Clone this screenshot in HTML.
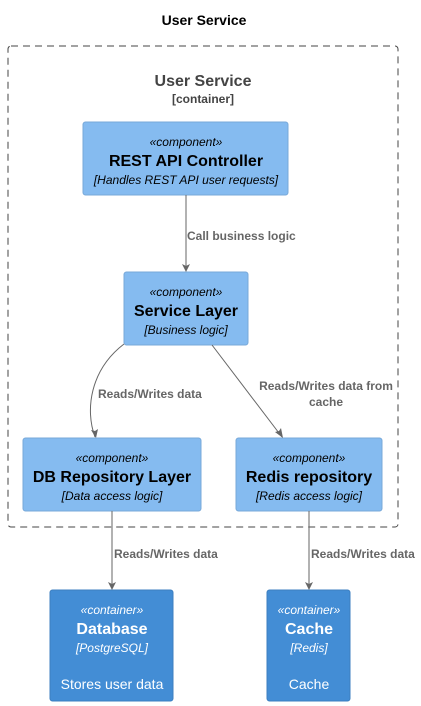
<!DOCTYPE html>
<html><head><meta charset="utf-8"><style>html,body{margin:0;padding:0;background:#fff}svg{display:block}</style></head>
<body>
<svg width="421" height="706" viewBox="0 0 421 706" xmlns="http://www.w3.org/2000/svg" font-family="Liberation Sans, Arial, sans-serif">
<text x="204" y="25" text-anchor="middle" font-size="14" font-weight="bold" fill="#000">User Service</text>
<rect x="8" y="46" width="390" height="481" rx="3" fill="none" stroke="#444" stroke-dasharray="7,5" stroke-width="1"/>
<text x="203" y="86" text-anchor="middle" font-size="16" font-weight="bold" fill="#444">User Service</text>
<text x="203" y="103" text-anchor="middle" font-size="12" font-weight="bold" fill="#444">[container]</text>

<g fill="#85bbf0" stroke="#78a8d8">
<rect x="83" y="122" width="205" height="73" rx="2.5"/>
<rect x="124" y="272" width="124" height="73" rx="2.5"/>
<rect x="23" y="438" width="178" height="73" rx="2.5"/>
<rect x="236" y="438" width="146" height="73" rx="2.5"/>
</g>
<g fill="#438dd5" stroke="#3c7fc0">
<rect x="50" y="590" width="123" height="111" rx="2.5"/>
<rect x="267" y="590" width="83" height="111" rx="2.5"/>
</g>

<g text-anchor="middle" fill="#000">
<text x="186" y="146" font-size="12" font-style="italic">«component»</text>
<text x="186" y="166" font-size="16" font-weight="bold">REST API Controller</text>
<text x="186" y="184" font-size="12" font-style="italic">[Handles REST API user requests]</text>
<text x="186" y="296" font-size="12" font-style="italic">«component»</text>
<text x="186" y="316" font-size="16" font-weight="bold">Service Layer</text>
<text x="186" y="334" font-size="12" font-style="italic">[Business logic]</text>
<text x="112" y="462" font-size="12" font-style="italic">«component»</text>
<text x="112" y="482" font-size="16" font-weight="bold">DB Repository Layer</text>
<text x="112" y="500" font-size="12" font-style="italic">[Data access logic]</text>
<text x="309" y="462" font-size="12" font-style="italic">«component»</text>
<text x="309" y="482" font-size="16" font-weight="bold">Redis repository</text>
<text x="309" y="500" font-size="12" font-style="italic">[Redis access logic]</text>
</g>
<g text-anchor="middle" fill="#fff">
<text x="112" y="614" font-size="12" font-style="italic">«container»</text>
<text x="112" y="634" font-size="16" font-weight="bold">Database</text>
<text x="112" y="652" font-size="12" font-style="italic">[PostgreSQL]</text>
<text x="112" y="689" font-size="14">Stores user data</text>
<text x="309" y="614" font-size="12" font-style="italic">«container»</text>
<text x="309" y="634" font-size="16" font-weight="bold">Cache</text>
<text x="309" y="652" font-size="12" font-style="italic">[Redis]</text>
<text x="309" y="689" font-size="14">Cache</text>
</g>

<g stroke="#666" stroke-width="1" fill="none">
<line x1="186" y1="195" x2="186" y2="271"/>
<path d="M124,344 C90,370 85,410 95,437"/>
<line x1="212" y1="345" x2="282" y2="437"/>
<line x1="112" y1="511" x2="112" y2="589"/>
<line x1="309" y1="511" x2="309" y2="589"/>
</g>
<g fill="#666">
<path d="M182,264 L186,272 L190,264 L186,266 Z"/>
<path d="M91,430 L96,438 L98,429 L95,431 Z"/>
<path d="M275,432 L283,438 L281,428 L279,431 Z"/>
<path d="M108,582 L112,590 L116,582 L112,584 Z"/>
<path d="M305,582 L309,590 L313,582 L309,584 Z"/>
</g>
<g font-size="12" font-weight="bold" fill="#666">
<text x="187" y="240">Call business logic</text>
<text x="98" y="398">Reads/Writes data</text>
<text x="326" y="390" text-anchor="middle">Reads/Writes data from</text>
<text x="326" y="406" text-anchor="middle">cache</text>
<text x="114" y="558">Reads/Writes data</text>
<text x="311" y="558">Reads/Writes data</text>
</g>
</svg>
</body></html>
